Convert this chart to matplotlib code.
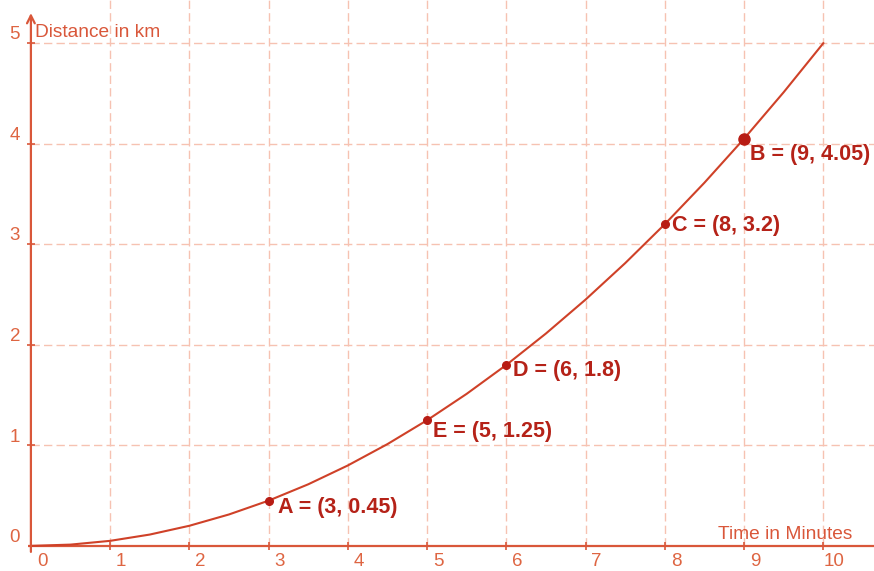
import matplotlib.pyplot as plt

# curve at half-minute steps
time_min = [0, 0.5, 1, 1.5, 2, 2.5, 3, 3.5, 4, 4.5, 5, 5.5, 6, 6.5, 7, 7.5, 8, 8.5, 9, 9.5, 10]
dist_km = [0, 0.0125, 0.05, 0.1125, 0.2, 0.3125, 0.45, 0.6125, 0.8, 1.0125, 1.25,
           1.5125, 1.8, 2.1125, 2.45, 2.8125, 3.2, 3.6125, 4.05, 4.5125, 5]

# labelled points
pt_names = ['A', 'E', 'D', 'C', 'B']
pt_x = [3, 5, 6, 8, 9]
pt_y = [0.45, 1.25, 1.8, 3.2, 4.05]
pt_text = ['A = (3, 0.45)', 'E = (5, 1.25)', 'D = (6, 1.8)', 'C = (8, 3.2)', 'B = (9, 4.05)']

x_ticks = [0, 1, 2, 3, 4, 5, 6, 7, 8, 9, 10]
y_ticks = [0, 1, 2, 3, 4, 5]

axis_col = '#d9573a'
grid_col = '#f6c2b2'
curve_col = '#cf4128'
point_col = '#b81c14'
label_col = '#b52218'
font = ['Liberation Sans', 'DejaVu Sans']

fig = plt.figure(figsize=(8.74, 5.71), dpi=100)
ax = fig.add_axes([0, 0, 1, 1])
ax.set_xlim(-0.39, 10.64)
ax.set_ylim(-0.25, 5.43)
ax.axis('off')

# dashed grid
ax.vlines(x_ticks[1:], 0, 5.43, colors=grid_col, linewidth=1, linestyles=(0, (6, 3)))
ax.hlines(y_ticks[1:], 0, 10.64, colors=grid_col, linewidth=1, linestyles=(0, (6, 3)))

# axes
ax.plot([-0.04, 10.64], [0, 0], color=axis_col, lw=1.6, solid_capstyle='butt')
ax.annotate('', xy=(0, 5.30), xytext=(0, -0.06),
            arrowprops=dict(arrowstyle='->', color=axis_col, lw=1.6,
                            shrinkA=0, shrinkB=0, mutation_scale=14))
ax.plot(x_ticks[1:], [0] * 10, ls='none', marker='|', ms=6, mew=1.2, color=axis_col)
ax.plot([0] * 5, y_ticks[1:], ls='none', marker='_', ms=6, mew=1.2, color=axis_col)

for v in x_ticks:
    ax.annotate(str(v), (v, 0), xytext=(8, -11.5), textcoords='offset points',
                ha='center', va='center', fontsize=13.5, color='#de6542', family=font)
for v in y_ticks:
    ax.annotate(str(v), (0, v), xytext=(-11.5, 6), textcoords='offset points',
                ha='center', va='center', fontsize=13.5, color='#de6542', family=font)

ax.text(0.05, 5.11, 'Distance in km', ha='left', va='center', fontsize=13.8,
        color=axis_col, family=font)
ax.text(10.37, 0.11, 'Time in Minutes', ha='right', va='center', fontsize=13.8,
        color=axis_col, family=font)

# curve and points
ax.plot(time_min, dist_km, color=curve_col, lw=1.5, solid_joinstyle='round')
offsets = [(7, -5), (4, -8), (5, -4), (5, -1), (4, -11.5)]
for name, x, y, txt, off in zip(pt_names, pt_x, pt_y, pt_text, offsets):
    ax.plot(x, y, 'o', ms=8 if name == 'B' else 5.5, color=point_col)
    ax.annotate(txt, (x, y), xytext=off, textcoords='offset points', ha='left',
                va='center', fontsize=15.5, fontweight='bold', color=label_col,
                family=font)

fig.savefig('out.png', dpi=100)
